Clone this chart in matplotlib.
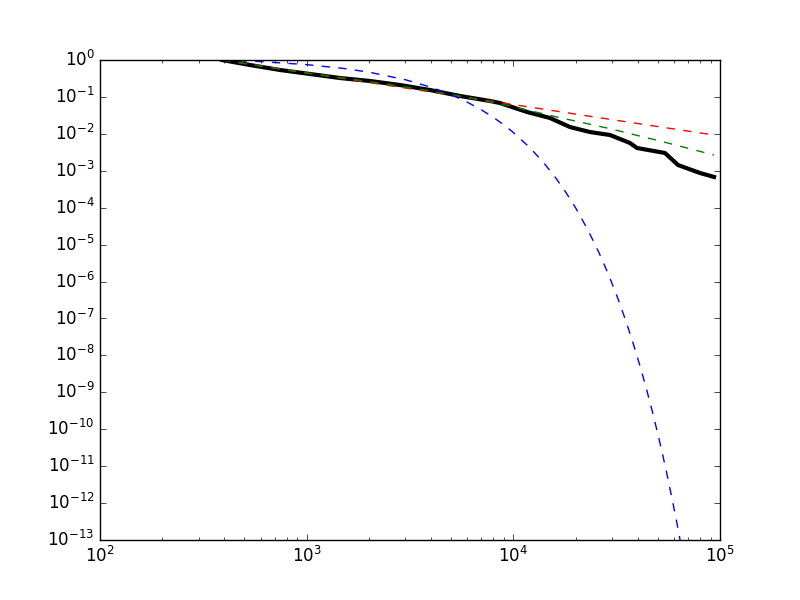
import matplotlib
matplotlib.use("Agg")
import matplotlib.pyplot as plt

plt.style.use("classic")

data_x = [389, 532, 743, 1038, 1449, 2024, 2829, 3952, 5521, 7711, 8610, 11640,
          15040, 18790, 23480, 29360, 32820, 36680, 39640, 54170, 62660, 80030, 93550]
data_y = [1.0, 0.732, 0.536, 0.418, 0.325, 0.270, 0.210, 0.154, 0.106, 0.0776, 0.0685,
          0.0391, 0.0269, 0.0153, 0.0112, 0.0093, 0.00725, 0.00565, 0.00414, 0.00303,
          0.00143, 0.00087, 0.00068]

# power law fit
pl_x = [389, 26240, 93550]
pl_y = [1.0, 0.0272, 0.0093]

# lognormal fit
ln_x = [389, 929, 2829, 5521, 9640, 16260, 28380, 51290, 93550]
ln_y = [1.0, 0.473, 0.198, 0.106, 0.0568, 0.0286, 0.0144, 0.0064, 0.00267]

# exponential fit
ex_x = [389, 600, 1000, 1500, 2000, 3000, 4000, 5000, 6000, 7000, 8000, 9000,
        10000, 12000, 14000, 16000, 18000, 20000, 23000, 26000, 29000, 32000,
        35000, 38000, 41000, 44000, 47000, 50000, 53000, 56000, 59000, 62000, 65000]
ex_y = [1.0, 0.906, 0.750, 0.593, 0.469, 0.293, 0.183, 0.115, 0.0717, 0.0448,
        0.0280, 0.0175, 0.0109, 4.28e-3, 1.67e-3, 6.53e-4, 2.55e-4, 9.98e-5,
        2.44e-5, 5.96e-6, 1.46e-6, 3.56e-7, 8.69e-8, 2.12e-8, 5.19e-9, 1.27e-9,
        3.10e-10, 7.57e-11, 1.85e-11, 4.52e-12, 1.10e-12, 2.70e-13, 6.6e-14]

fig = plt.figure(figsize=(8, 6), dpi=100)
ax = fig.add_subplot(111)
ax.plot(data_x, data_y, color='k', linewidth=3)
ax.plot(pl_x, pl_y, color='r', linestyle='--')
ax.plot(ln_x, ln_y, color='g', linestyle='--')
ax.plot(ex_x, ex_y, color='b', linestyle='--')
ax.set_xscale('log')
ax.set_yscale('log')
ax.set_xlim(1e2, 1e5)
ax.set_ylim(1e-13, 1e0)
ax.set_yticks([10.0 ** -k for k in range(0, 14)])
ax.yaxis.set_minor_locator(matplotlib.ticker.NullLocator())

fig.savefig("out.png", dpi=100)
